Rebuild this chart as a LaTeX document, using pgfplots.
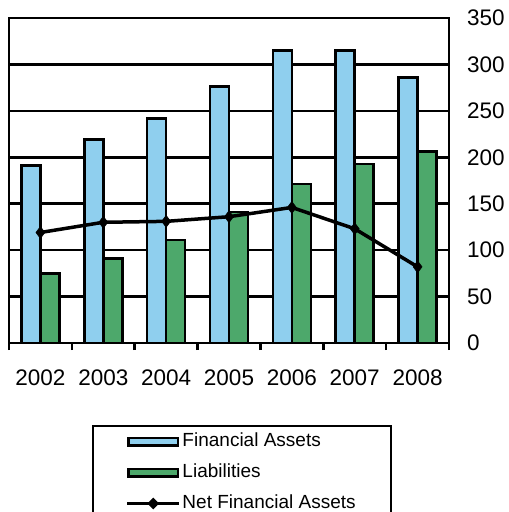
\documentclass[border=0pt]{standalone}
\usepackage{fontspec}
\setmainfont{Liberation Sans}
\usepackage{pgfplots}
\pgfplotsset{compat=1.18}
\definecolor{fablue}{RGB}{143,207,238}
\definecolor{liagreen}{RGB}{77,168,107}
\begin{document}
\begin{tikzpicture}
\begin{axis}[
  name=ax,
  scale only axis,
  width=440pt, height=325pt,
  xmin=-0.5, xmax=6.5,
  ymin=0, ymax=350,
  ytick={0,50,...,350},
  yticklabel pos=right,
  xtick pos=bottom,
  xtick={0,1,2,3,4,5,6},
  xticklabels={2002,2003,2004,2005,2006,2007,2008},
  minor xtick={-0.5,0.5,...,6.5},
  major tick length=0pt,
  minor tick length=7pt,
  tick align=outside,
  tick style={black, line width=2.5pt},
  ytick style={draw=none},
  ymajorgrids,
  grid style={black, line width=2.5pt},
  axis line style={black, line width=2.5pt},
  /pgf/number format/assume math mode=true,
  tick label style={font=\fontsize{22.5}{25}\selectfont},
  yticklabel style={inner sep=0pt, anchor=west, xshift=18pt},
  xticklabel style={inner sep=0pt, anchor=north, yshift=-27pt},
  legend style={
    at={(0.1886,-0.2523)}, anchor=north west,
    draw=black, line width=2pt,
    font=\fontsize{19}{21}\selectfont,
    inner xsep=33pt, inner ysep=4pt,
    row sep=8pt,
    cells={anchor=west},
    nodes={inner xsep=2pt, inner ysep=3pt, text height=13pt, text depth=4pt},
  },
  legend cell align=left,
]
\addplot[ybar, bar width=19pt, bar shift=-9.5pt, fill=fablue, draw=black, line width=2.5pt,
  legend image code/.code={\draw[fill=fablue, draw=black, line width=2.5pt] (1.25pt,-3.75pt) rectangle (50.75pt,3.75pt);}]
  coordinates {(0,191) (1,219) (2,242) (3,276) (4,315) (5,315) (6,286)};
\addlegendentry{Financial Assets}
\addplot[ybar, bar width=19pt, bar shift=9.5pt, fill=liagreen, draw=black, line width=2.5pt,
  legend image code/.code={\draw[fill=liagreen, draw=black, line width=2.5pt] (1.25pt,-3.75pt) rectangle (50.75pt,3.75pt);}]
  coordinates {(0,75) (1,91) (2,111) (3,141) (4,171) (5,193) (6,206)};
\addlegendentry{Liabilities}
\addplot[black, line width=3.5pt, mark=diamond*, mark size=6pt, mark options={solid, line width=0.5pt},
  legend image code/.code={\draw[black, line width=2.5pt] (0pt,0pt) -- (52pt,0pt);
    \fill[black] (26pt,3.5pt) -- (29.5pt,0pt) -- (26pt,-3.5pt) -- (22.5pt,0pt) -- cycle;}]
  coordinates {(0,119) (1,130) (2,131) (3,136) (4,146) (5,123) (6,82)};
\addlegendentry{Net Financial Assets}
\end{axis}
\pgfresetboundingbox
\path ([shift={(-9pt,-169pt)}]ax.south west) rectangle ([shift={(59pt,18pt)}]ax.north east);
\end{tikzpicture}
\end{document}
